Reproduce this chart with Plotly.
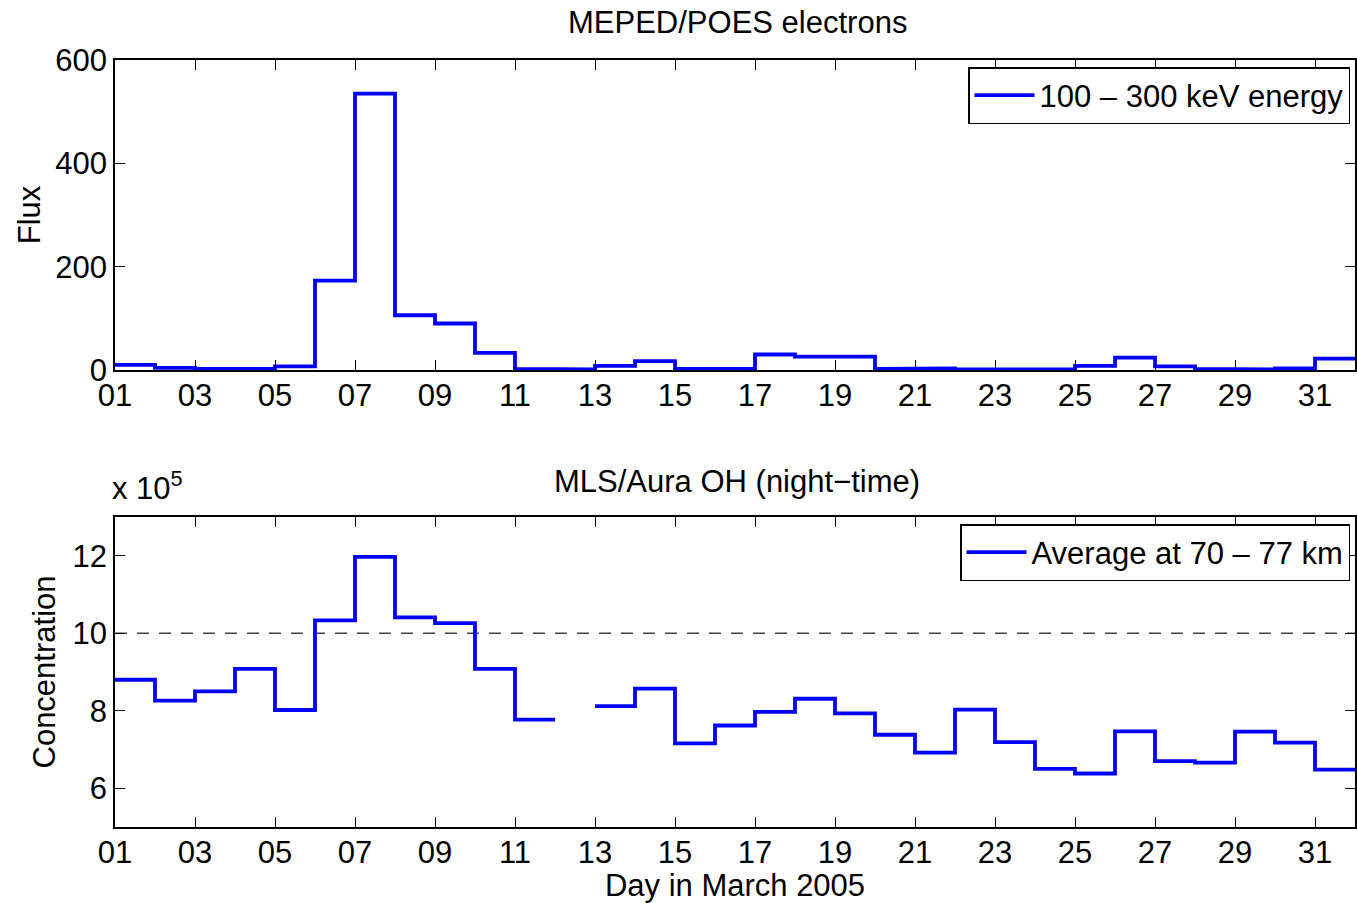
import plotly.graph_objects as go

days = list(range(1, 32))
flux = [10, 4, 2, 2, 7, 173, 535, 106, 90, 33, 2, 1, 8, 17, 2, 2,
        30, 26, 26, 2, 3, 1, 1, 1, 8, 24, 7, 2, 1, 3, 22]
oh_conc = [8.80, 8.26, 8.50, 9.08, 8.02, 10.33, 11.97, 10.41, 10.26, 9.08, 7.77,
           None, 8.12, 8.57, 7.16, 7.62, 7.97, 8.31, 7.93, 7.38, 6.92, 8.03,
           7.19, 6.50, 6.38, 7.47, 6.70, 6.66, 7.46, 7.18, 6.48]
ref_level = 10
tick_days = list(range(1, 32, 2))
tick_text = ["%02d" % d for d in tick_days]

W, H = 1357, 903
FONT = "Liberation Sans, Arial, sans-serif"
FS = 31
BLUE = "#0000FF"


def stairs(xs, ys):
    sx, sy = [], []
    for x, y in zip(xs, ys):
        if y is None:
            sx.append(x)
            sy.append(None)
            continue
        sx += [x, x + 1]
        sy += [y, y]
    return sx, sy


fig = go.Figure()

fx, fy = stairs(days, flux)
fig.add_trace(go.Scatter(x=fx, y=fy, mode="lines", line=dict(color=BLUE, width=3.8),
                         name="100 \u2013 300 keV energy", xaxis="x", yaxis="y",
                         connectgaps=False, legend="legend"))
ox, oy = stairs(days, oh_conc)
fig.add_trace(go.Scatter(x=[days[0], days[-1] + 1], y=[ref_level, ref_level], mode="lines",
                         line=dict(color="#444444", width=1.5, dash="12px,10px"),
                         showlegend=False, xaxis="x2", yaxis="y2"))
fig.add_trace(go.Scatter(x=ox, y=oy, mode="lines", line=dict(color=BLUE, width=3.8),
                         name="Average at 70 \u2013 77 km", xaxis="x2", yaxis="y2",
                         connectgaps=False, legend="legend2"))

xdom = [115 / W, 1355 / W]
ytop = [1 - 370 / H, 1 - 60 / H]
ybot = [1 - 827 / H, 1 - 517 / H]

axis_common = dict(showline=True, linecolor="black", linewidth=1.5, mirror="ticks",
                   ticks="inside", ticklen=10, tickcolor="black", tickwidth=1,
                   showgrid=False, zeroline=False, automargin=False,
                   tickfont=dict(family=FONT, size=FS, color="black"))

fig.update_layout(
    width=W, height=H, margin=dict(l=0, r=0, t=0, b=0, autoexpand=False),
    plot_bgcolor="white", paper_bgcolor="white",
    font=dict(family=FONT, size=FS, color="black"),
    xaxis=dict(domain=xdom, anchor="y", range=[1, 32], tickvals=tick_days, ticktext=tick_text,
               ticklabelstandoff=-3, **axis_common),
    yaxis=dict(domain=ytop, anchor="x", range=[0, 600], tickvals=[0, 200, 400, 600],
               title=dict(text="Flux", font=dict(size=FS), standoff=5), **axis_common),
    xaxis2=dict(domain=xdom, anchor="y2", range=[1, 32], tickvals=tick_days, ticktext=tick_text,
                ticklabelstandoff=-3,
                title=dict(text="Day in March 2005", font=dict(size=FS), standoff=6),
                **axis_common),
    yaxis2=dict(domain=ybot, anchor="x2", range=[5, 13], tickvals=[6, 8, 10, 12],
                title=dict(text="Concentration", font=dict(size=FS), standoff=8),
                **axis_common),
    legend=dict(x=1350 / W, y=1 - 67 / H, xanchor="right", yanchor="top",
                bordercolor="black", borderwidth=1.5, bgcolor="white",
                font=dict(family=FONT, size=FS), itemwidth=60, tracegroupgap=0),
    legend2=dict(x=1350 / W, y=1 - 524 / H, xanchor="right", yanchor="top",
                 bordercolor="black", borderwidth=1.5, bgcolor="white",
                 font=dict(family=FONT, size=FS), itemwidth=60),
    showlegend=True,
    annotations=[
        dict(text="MEPED/POES electrons", x=737 / W, y=1 - 22 / H, xref="paper", yref="paper",
             showarrow=False, font=dict(size=FS), xanchor="center", yanchor="middle"),
        dict(text="MLS/Aura OH (night\u2212time)", x=737 / W, y=1 - 481 / H, xref="paper",
             yref="paper", showarrow=False, font=dict(size=FS), xanchor="center",
             yanchor="middle"),
        dict(text="x 10<sup>5</sup>", x=110 / W, y=1 - 508 / H, xref="paper", yref="paper",
             showarrow=False, font=dict(size=FS), xanchor="left", yanchor="bottom"),
    ],
)

fig.write_html("out.html")
